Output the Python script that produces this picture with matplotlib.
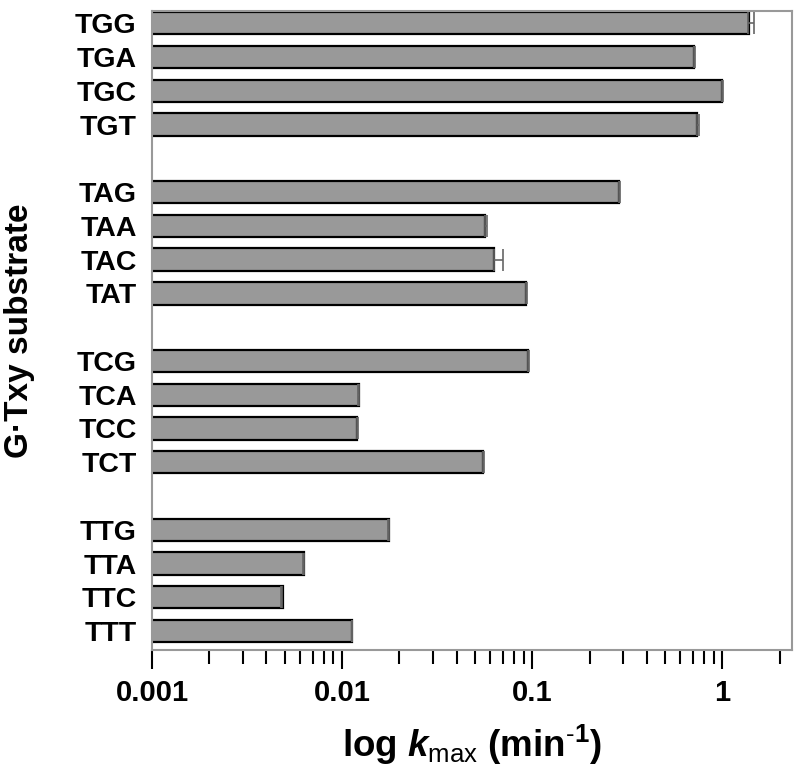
import matplotlib
matplotlib.use("Agg")
import matplotlib.pyplot as plt
import matplotlib.ticker as mticker
import numpy as np

plt.rcParams['font.family'] = ['Liberation Sans', 'DejaVu Sans']
plt.rcParams['mathtext.fontset'] = 'custom'
plt.rcParams['mathtext.it'] = 'Liberation Sans:italic:bold'
plt.rcParams['mathtext.rm'] = 'Liberation Sans'
plt.rcParams['mathtext.bf'] = 'Liberation Sans:bold'

# substrates, top to bottom, in groups of four
groups = [["TGG", "TGA", "TGC", "TGT"],
          ["TAG", "TAA", "TAC", "TAT"],
          ["TCG", "TCA", "TCC", "TCT"],
          ["TTG", "TTA", "TTC", "TTT"]]
kmax = [[1.37, 0.71, 0.99, 0.73],
        [0.285, 0.0566, 0.0627, 0.0924],
        [0.0953, 0.0121, 0.0119, 0.0552],
        [0.0175, 0.0062, 0.00478, 0.0112]]
kmax_err = [[0.09, 0.01, 0.02, 0.02],
            [0.005, 0.0015, 0.007, 0.001],
            [0.001, 0.0002, 0.0002, 0.0005],
            [0.0002, 0.0001, 0.00005, 0.0001]]

labels = []
values = []
errs = []
ypos = []
for g, names in enumerate(groups):
    for i, name in enumerate(names):
        labels.append(name)
        values.append(kmax[g][i])
        errs.append(kmax_err[g][i])
        ypos.append(g * 5 + i)
values = np.array(values)
errs = np.array(errs)

fig = plt.figure(figsize=(8, 7.68), dpi=100)
ax = fig.add_axes([0.19, 0.1536, 0.80, 0.832])

ax.barh(ypos, values, height=0.66, left=0.0001, color="#999999",
        edgecolor="black", linewidth=1.6, zorder=2)
ax.errorbar(values, ypos, xerr=[np.zeros_like(errs), errs], fmt="none",
            ecolor="#666666", elinewidth=1.2, capsize=8, capthick=1.2, zorder=3)

ax.set_xscale("log")
ax.set_xlim(0.001, 2.32)
ax.set_ylim(18.56, -0.36)

ax.xaxis.set_major_locator(mticker.FixedLocator([0.001, 0.01, 0.1, 1]))
ax.xaxis.set_major_formatter(mticker.FixedFormatter(["0.001", "0.01", "0.1", "1"]))
ax.xaxis.set_minor_locator(mticker.LogLocator(base=10, subs=np.arange(2, 10), numticks=20))
ax.xaxis.set_minor_formatter(mticker.NullFormatter())
ax.tick_params(axis="x", which="major", direction="out", length=14, width=1.5,
               labelsize=21, pad=7)
ax.tick_params(axis="x", which="minor", direction="out", length=10, width=1.5)
for lab in ax.get_xticklabels():
    lab.set_fontweight("bold")

ax.set_yticks(ypos)
ax.set_yticklabels(labels, fontsize=20.5, fontweight="bold")
ax.tick_params(axis="y", length=0, pad=11)

for sp in ax.spines.values():
    sp.set_color("#999999")
    sp.set_linewidth(1.5)

ax.set_xlabel(r"log $k_{\mathrm{max}}$ (min$^{\mathbf{\text{-}1}}$)", fontsize=26.5,
              fontweight="bold", labelpad=11)
ax.set_ylabel("G·Txy substrate", fontsize=24, fontweight="bold", labelpad=29)

fig.savefig("out.png", dpi=100)
